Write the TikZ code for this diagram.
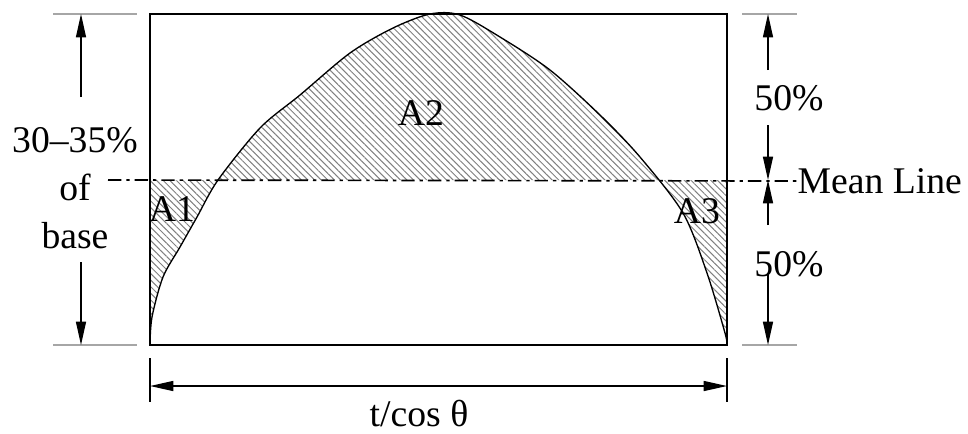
\documentclass[tikz,border=0pt]{standalone}
\usepackage{fontspec}
\setmainfont{Liberation Serif}
\usetikzlibrary{arrows.meta,patterns.meta}

\tikzset{
  dim/.style={-{Triangle[length=7pt,width=3pt]}, line width=0.4pt},
  ext/.style={gray!70, line width=0.8pt},
  hatch/.style={pattern={Lines[angle=-45,distance=1.4pt,line width=0.3pt]}, pattern color=gray},
  meanline/.style={line width=0.5pt, dash pattern=on 4pt off 1.5pt on 1pt off 1.5pt},
}
% weld profile, in pixel units of the picture
\newcommand\profile{plot[smooth, tension=0.5] coordinates {(150,345) (152,317) (163,277) (180,247) (197,217) (218,180) (260,128) (300,95) (350,53) (393,28) (430,14) (460,15) (500,37) (550,70) (600,115) (640,157) (683,213) (707,273) (725,333) (727,345)}}

\begin{document}
\begin{tikzpicture}[x=0.3pt, y=-0.3pt, font=\fontsize{11.3}{14.4}\selectfont]
\useasboundingbox (0,0) rectangle (968,433);
\coordinate (tl) at (150,14);
\coordinate (br) at (727,345);

% hatched areas A1, A2, A3
\fill[hatch, even odd rule] (150,180) rectangle (br) \profile -- cycle;

\draw[line width=0.7pt] (tl) rectangle (br);
\draw[line width=0.4pt] \profile;

\node (a1) at (172,209) {A1};
\node (a2) at (421,113) {A2};
\node (a3) at (697,211) {A3};

\node[anchor=west, inner sep=0pt] (mean) at (797,181) {Mean Line};
\draw[meanline] (108,180) -- (mean.west);

% left dimension
\node[align=center] (frac) at (75,188) {30–35\%\\of\\base};
\draw[ext] (53,14) -- (137,14);
\draw[ext] (53,345) -- (137,345);
\coordinate (lt) at (81,14);
\coordinate (lb) at (81,345);
\draw[dim] (81,97) -- (lt);
\draw[dim] (81,262) -- (lb);

% right dimension
\node (up) at (789,98) {50\%};
\node (low) at (789,264) {50\%};
\draw[ext] (742,14) -- (797,14);
\draw[ext] (742,345) -- (797,345);
\coordinate (rt) at (768,14);
\coordinate (rm) at (768,180);
\coordinate (rb) at (768,345);
\draw[dim] (768,70) -- (rt);
\draw[dim] (768,125) -- (rm);
\draw[dim] (768,225) -- (rm);
\draw[dim] (768,273) -- (rb);

% base width
\node (width) at (419,413) {t/cos θ};
\draw[line width=0.4pt] (150,358) -- (150,402);
\draw[line width=0.4pt] (727,358) -- (727,402);
\coordinate (bl) at (150,386);
\coordinate (bR) at (727,386);
\draw[{Triangle[length=7pt,width=3pt]}-{Triangle[length=7pt,width=3pt]}, line width=0.4pt] (bl) -- (bR);
\end{tikzpicture}
\end{document}
